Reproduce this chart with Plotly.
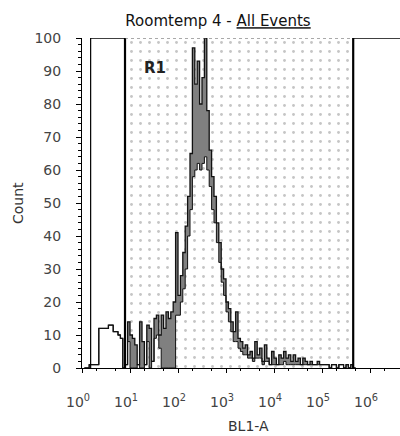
import plotly.graph_objects as go

# histogram of BL1-A (log10 bin starts, 0.05 wide)
bin_start = 0.05
bin_step = 0.05
counts_hi = [
    0, 0, 1, 1, 1, 1, 12, 12, 12, 12,
    13, 13, 11, 11, 10, 9, 0, 1, 14, 10,
    9, 7, 1, 14, 8, 1, 13, 12, 2, 15,
    16, 10, 16, 12, 17, 15, 17, 20, 41, 22,
    28, 35, 43, 52, 65, 97, 86, 93, 80, 88,
    100, 78, 66, 58, 52, 44, 38, 30, 27, 20,
    18, 14, 11, 17, 9, 8, 6, 7, 4, 5,
    3, 8, 4, 6, 2, 7, 3, 1, 5, 3,
    1, 4, 3, 5, 3, 4, 2, 4, 2, 3,
    1, 3, 2, 1, 2, 1, 1, 2, 1, 1,
    1, 1, 0, 1, 1, 0, 1, 1, 0, 1,
    0, 1, 0,
]
# lower edge of the dense (grey) band
counts_lo = [
    0, 0, 1, 1, 1, 1, 12, 12, 12, 12,
    13, 13, 11, 11, 10, 9, 0, 1, 8, 0,
    0, 0, 1, 0, 0, 1, 8, 0, 2, 9,
    10, 6, 0, 0, 0, 0, 0, 0, 16, 16,
    20, 24, 30, 40, 48, 58, 60, 62, 60, 62,
    64, 60, 55, 48, 44, 38, 32, 26, 22, 17,
    14, 11, 8, 8, 6, 5, 4, 4, 3, 3,
    2, 3, 3, 3, 1, 2, 2, 1, 1, 1,
    1, 1, 1, 2, 1, 1, 1, 1, 1, 1,
    1, 1, 1, 1, 1, 1, 1, 1, 1, 1,
    1, 1, 0, 1, 1, 0, 1, 1, 0, 1,
    0, 1, 0,
]

gate_name = "R1"
gate_left = 10 ** 0.896
gate_right = 10 ** 5.65
marker_x = 10 ** 0.18

tick_vals = [1, 10, 100, 1000, 10000, 100000, 1000000]
tick_text = ["10<sup>0</sup>", "10<sup>1</sup>", "10<sup>2</sup>", "10<sup>3</sup>",
             "10<sup>4</sup>", "10<sup>5</sup>", "10<sup>6</sup>"]

xs = [10 ** (bin_start + bin_step * i) for i in range(len(counts_hi) + 1)]
y_hi = counts_hi + [counts_hi[-1]]
y_lo = counts_lo + [counts_lo[-1]]

fig = go.Figure()

# dotted gate region
fig.add_trace(go.Scatter(
    x=[gate_left, gate_right, gate_right, gate_left, gate_left],
    y=[0, 0, 100, 100, 0],
    mode="none", fill="toself", fillcolor="white",
    fillpattern=dict(shape=".", fgcolor="#8c8c8c", bgcolor="white", size=9, solidity=0.08),
    hoverinfo="skip", showlegend=False,
))

fig.add_trace(go.Scatter(
    x=xs, y=y_lo, mode="lines", line_shape="hv",
    line=dict(color="#111111", width=1), showlegend=False,
))
fig.add_trace(go.Scatter(
    x=xs, y=y_hi, mode="lines", line_shape="hv",
    fill="tonexty", fillcolor="#808080",
    line=dict(color="#111111", width=1.3), showlegend=False,
))

# gate bars and the thin marker line
for gx, w in [(gate_left, 2.2), (gate_right, 2.2), (marker_x, 1.2)]:
    fig.add_shape(type="line", x0=gx, x1=gx, y0=0, y1=100,
                  xref="x", yref="y", line=dict(color="black", width=w))
fig.add_shape(type="line", x0=marker_x, x1=gate_left, y0=100, y1=100,
              xref="x", yref="y", line=dict(color="black", width=1.5))
fig.add_shape(type="line", x0=gate_left, x1=gate_right, y0=100, y1=100,
              xref="x", yref="y", line=dict(color="#555555", width=1, dash="dot"))
fig.add_shape(type="line", x0=gate_right, x1=10 ** 6.625, y0=100, y1=100,
              xref="x", yref="y", line=dict(color="black", width=1.5))

fig.add_annotation(x=1.52, y=91, xref="x", yref="y", text="<b>R1</b>",
                   showarrow=False, font=dict(family="DejaVu Sans", size=15, color="#222"))
fig.add_annotation(x=-0.201, y=0.5, xref="paper", yref="paper", text="Count",
                   textangle=-90, showarrow=False, xanchor="center", yanchor="middle",
                   font=dict(family="DejaVu Sans", size=14, color="#333"))
fig.add_annotation(x=0.525, y=-0.176, xref="paper", yref="paper", text="BL1-A",
                   showarrow=False, xanchor="center", yanchor="middle",
                   font=dict(family="DejaVu Sans", size=14, color="#333"))

fig.update_layout(
    width=400, height=436,
    margin=dict(l=82, r=0, t=38, b=68),
    paper_bgcolor="white", plot_bgcolor="white",
    title=dict(text="Roomtemp 4 - <u>All Events</u>", x=0.545, xanchor="center",
               y=0.952, yanchor="middle", yref="container",
               font=dict(family="DejaVu Sans", size=15, color="#111")),
    font=dict(family="DejaVu Sans", color="#444"),
)
fig.update_xaxes(
    type="log", range=[0, 6.625],
    tickvals=tick_vals, ticktext=tick_text,
    tickfont=dict(size=14, color="#444"),
    ticklabelshift=-4, ticklabelstandoff=17,
    showgrid=False, zeroline=False,
    showline=True, linecolor="black", linewidth=1.2,
    ticks="outside", ticklen=4, tickcolor="black",
    minor=dict(ticks="outside", ticklen=2, tickcolor="black", showgrid=False),
)
fig.update_yaxes(
    range=[0, 100], dtick=10,
    tickfont=dict(size=14, color="#444"),
    ticklabelstandoff=12,
    showgrid=False, zeroline=False,
    showline=True, linecolor="black", linewidth=1,
    ticks="outside", ticklen=5, tickcolor="black",
    minor=dict(dtick=2, ticks="outside", ticklen=3, tickcolor="black", showgrid=False),
)

fig.write_html("out.html", config={"displayModeBar": False},
               post_script="document.body.style.margin='0';document.body.style.overflow='hidden';")
